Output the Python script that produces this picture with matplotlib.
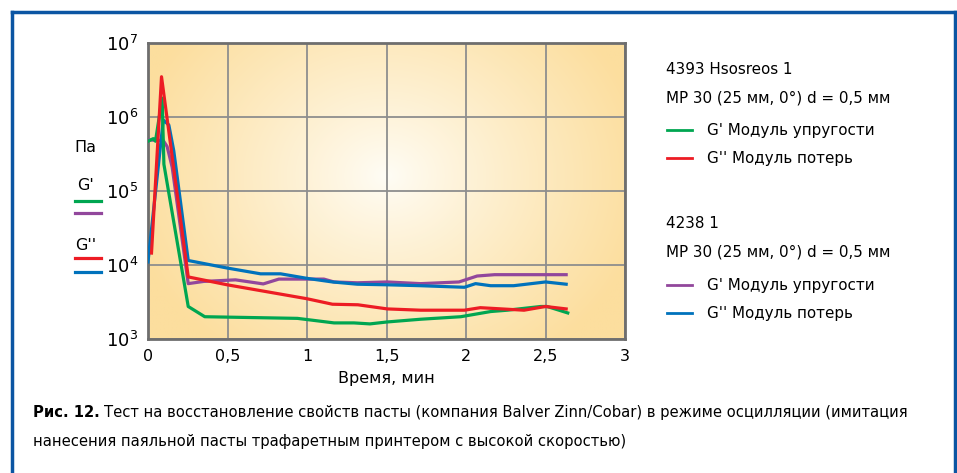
import numpy as np
import matplotlib
matplotlib.use("Agg")
import matplotlib.pyplot as plt
from matplotlib.lines import Line2D
from matplotlib.ticker import FixedLocator, NullLocator

# --- data (time in minutes, modulus in Pa) ---
# 4393 Hsosreos 1
t_g1 = [0, 0.033, 0.047, 0.089, 0.10, 0.253, 0.357, 0.94, 1.17, 1.295, 1.396, 1.505,
        1.715, 1.967, 2.155, 2.26, 2.47, 2.51, 2.64]
g1 = [4.7e5, 5.1e5, 4.7e5, 1.8e6, 2.3e5, 2750, 2000, 1900, 1650, 1650, 1600, 1700,
      1850, 2000, 2350, 2450, 2750, 2750, 2250]

t_gg1 = [0.022, 0.085, 0.253, 0.498, 1.00, 1.16, 1.32, 1.505, 1.715, 1.99, 2.09, 2.365, 2.50, 2.63]
gg1 = [14500, 3.5e6, 6900, 5400, 3500, 2950, 2900, 2550, 2450, 2450, 2650, 2450, 2750, 2550]

# 4238 1
t_g2 = [0, 0.096, 0.12, 0.152, 0.253, 0.351, 0.55, 0.725, 0.823, 1.106, 1.17, 1.316,
        1.505, 1.715, 1.956, 2.07, 2.18, 2.63]
g2 = [4.9e5, 4.8e5, 4.0e5, 2.1e5, 5600, 6000, 6300, 5550, 6450, 6450, 5900, 5750,
      5900, 5600, 5900, 7100, 7400, 7400]

t_gg2 = [0, 0.096, 0.131, 0.162, 0.253, 0.498, 0.708, 0.834, 1.00, 1.16, 1.316, 1.505,
         1.715, 1.99, 2.06, 2.155, 2.30, 2.50, 2.63]
gg2 = [11000, 9.1e5, 7.8e5, 3.5e5, 11500, 9100, 7600, 7600, 6600, 5900, 5500, 5400,
       5250, 5000, 5600, 5250, 5250, 5900, 5500]

x_ticks = [0, 0.5, 1, 1.5, 2, 2.5, 3]
x_labels = ["0", "0,5", "1", "1,5", "2", "2,5", "3"]
y_ticks = [1e3, 1e4, 1e5, 1e6, 1e7]
y_labels = [r"$10^{3}$", r"$10^{4}$", r"$10^{5}$", r"$10^{6}$", r"$10^{7}$"]

GREEN = "#00a651"
RED = "#ed1c24"
PURPLE = "#92479c"
BLUE = "#0072bc"
FRAME = "#0b55a3"

fig = plt.figure(figsize=(9.57, 4.73), dpi=100)
ax = fig.add_axes([148 / 957, 1 - 339 / 473, 477 / 957, 296 / 473])

# radial background
nx, ny = 300, 200
xx, yy = np.meshgrid(np.linspace(0, 1, nx), np.linspace(0, 1, ny))
d = np.sqrt(((xx - 0.5) / 0.55) ** 2 + ((yy - 0.55) / 0.75) ** 2)
d = np.clip(d, 0, 1) ** 0.9
c_in = np.array([255, 253, 246]) / 255
c_out = np.array([252, 222, 158]) / 255
img = c_in + (c_out - c_in) * d[..., None]
ax.imshow(img, extent=[0, 1, 0, 1], transform=ax.transAxes, aspect="auto",
          origin="lower", zorder=0, interpolation="bilinear")

lw = 2.3
ax.plot(t_g2, g2, color=PURPLE, lw=lw, zorder=3)
ax.plot(t_gg2, gg2, color=BLUE, lw=lw, zorder=3)
ax.plot(t_g1, g1, color=GREEN, lw=lw, zorder=4)
ax.plot(t_gg1, gg1, color=RED, lw=lw, zorder=5)

ax.set_yscale("log")
ax.set_xlim(0, 3)
ax.set_ylim(1e3, 1e7)
ax.xaxis.set_major_locator(FixedLocator(x_ticks))
ax.set_xticklabels(x_labels)
ax.yaxis.set_major_locator(FixedLocator(y_ticks))
ax.yaxis.set_minor_locator(NullLocator())
ax.set_yticklabels(y_labels)
ax.tick_params(length=0, labelsize=11.5, pad=7)
ax.tick_params(axis="y", labelsize=13, pad=7)
ax.grid(True, color="#8e8e8e", lw=1.3)
for s in ax.spines.values():
    s.set_color("#6e6e6e")
    s.set_linewidth(2)
ax.set_xlabel("Время, мин", fontsize=11.5, labelpad=5)

# left legend
fig.text(74 / 957, 1 - 147 / 473, "Па", fontsize=11.5, va="center", ha="left")
fig.text(86 / 957, 1 - 185 / 473, "G'", fontsize=11.5, va="center", ha="center")
fig.text(86 / 957, 1 - 245 / 473, "G''", fontsize=11.5, va="center", ha="center")
for yp, c in [(200.7, GREEN), (213.3, PURPLE), (258.3, RED), (271.7, BLUE)]:
    fig.add_artist(Line2D([75 / 957, 101 / 957], [1 - yp / 473] * 2, color=c, lw=2.3))

# right legend
fs = 10.9
fig.text(666 / 957, 1 - 70 / 473, "4393 Hsosreos 1", fontsize=fs, va="center")
fig.text(666 / 957, 1 - 98.3 / 473, "MP 30 (25 мм, 0°) d = 0,5 мм", fontsize=fs, va="center")
fig.text(666 / 957, 1 - 223.3 / 473, "4238 1", fontsize=fs, va="center")
fig.text(666 / 957, 1 - 251.7 / 473, "MP 30 (25 мм, 0°) d = 0,5 мм", fontsize=fs, va="center")
entries = [(130, GREEN, "G' Модуль упругости"), (158.3, RED, "G'' Модуль потерь"),
           (285, PURPLE, "G' Модуль упругости"), (313.3, BLUE, "G'' Модуль потерь")]
for yp, c, lab in entries:
    fig.add_artist(Line2D([667 / 957, 692 / 957], [1 - yp / 473] * 2, color=c, lw=2))
    fig.text(707 / 957, 1 - yp / 473, lab, fontsize=fs, va="center")

# frame
for xs, ys in [([11.5, 11.5], [473, 12.5]), ([11.5, 955], [12.5, 12.5]), ([955, 955], [12.5, 473])]:
    fig.add_artist(Line2D([x / 957 for x in xs], [1 - y / 473 for y in ys], color=FRAME, lw=2.5))

# caption (condensed font if available, shrunk to the reference width)
cap1 = "Тест на восстановление свойств пасты (компания Balver Zinn/Cobar) в режиме осцилляции (имитация"
cap2 = "нанесения паяльной пасты трафаретным принтером с высокой скоростью)"
cap_kw = dict(family="DejaVu Sans", fontstretch="condensed", va="center")
cap_fs = 12
t1 = fig.text(33 / 957, 1 - 412 / 473, "Рис. 12.", fontsize=cap_fs, fontweight="bold", **cap_kw)
fig.canvas.draw()
bb = t1.get_window_extent()
t2 = fig.text((bb.x1 + 5) / 957, 1 - 412 / 473, cap1, fontsize=cap_fs, **cap_kw)
fig.canvas.draw()
total = t2.get_window_extent().x1 - 33
scale = min(1.0, 872 / total)
if scale < 1.0:
    cap_fs = cap_fs * scale
    t1.set_fontsize(cap_fs)
    fig.canvas.draw()
    bb = t1.get_window_extent()
    t2.set_fontsize(cap_fs)
    t2.set_x((bb.x1 + 4) / 957)
fig.text(33 / 957, 1 - 441 / 473, cap2, fontsize=cap_fs, **cap_kw)

fig.savefig("out.png", dpi=100)
